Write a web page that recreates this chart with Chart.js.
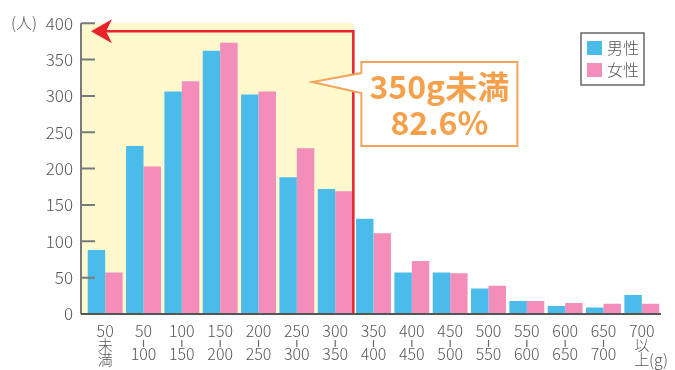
<!DOCTYPE html>
<html>
<head>
<meta charset="utf-8">
<script src="https://cdn.jsdelivr.net/npm/chart.js@4"></script>
<style>
body{margin:0;background:#fff;}
</style>
</head>
<body>
<canvas id="myChart" width="675" height="370"></canvas>
<script>
// weight classes (g): top line / middle / bottom line
let fromLabels = ["50","50","100","150","200","250","300","350","400","450","500","550","600","650","700"];
let midLabels  = ["未","|","|","|","|","|","|","|","|","|","|","|","|","|","以"];
let toLabels   = ["満","100","150","200","250","300","350","400","450","500","550","600","650","700","上"];

let male   = [88, 231, 306, 362, 302, 188, 172, 131, 57, 57, 35, 18, 11, 9, 26];
let female = [57, 203, 320, 373, 306, 228, 169, 111, 73, 56, 39, 18, 15, 14, 14];

let yTicks = [0, 50, 100, 150, 200, 250, 300, 350, 400];

// highlighted range: first 7 classes (under 350g), arrow at this height
let lastHighlighted = 6;
let arrowValue = 389;
let calloutValue = 319;
let calloutText = ["350g未満", "82.6%"];

let labels = fromLabels.map((f, i) => f + "-" + toLabels[i]);
let font = "'Noto Sans CJK JP', 'Noto Sans', sans-serif";

let extras = {
  id: "extras",
  beforeDatasetsDraw(chart){
    let ctx = chart.ctx;
    let x = chart.scales.x, y = chart.scales.y;
    let axisX = chart.chartArea.left - 5;
    let edge = x.getPixelForValue(lastHighlighted) + x.width / labels.length / 2 - 1;
    ctx.save();
    ctx.fillStyle = "#FFF9CD";
    ctx.fillRect(axisX, y.getPixelForValue(400), edge - axisX, y.getPixelForValue(0) - y.getPixelForValue(400));
    ctx.restore();
  },
  afterDatasetsDraw(chart){
    let ctx = chart.ctx;
    let x = chart.scales.x, y = chart.scales.y;
    let area = chart.chartArea;
    let axisX = area.left - 5;
    let bottom = y.getPixelForValue(0);
    let edge = x.getPixelForValue(lastHighlighted) + x.width / labels.length / 2 - 1;
    let ay = y.getPixelForValue(arrowValue);
    ctx.save();

    // red frame + arrow
    ctx.strokeStyle = "#E8232B";
    ctx.lineWidth = 2.5;
    ctx.beginPath();
    ctx.moveTo(axisX + 20, ay);
    ctx.lineTo(edge, ay);
    ctx.lineTo(edge, bottom);
    ctx.stroke();
    ctx.fillStyle = "#E8232B";
    ctx.beginPath();
    ctx.moveTo(axisX + 10, ay);
    ctx.lineTo(axisX + 31, ay - 12);
    ctx.lineTo(axisX + 25, ay);
    ctx.lineTo(axisX + 31, ay + 12);
    ctx.closePath();
    ctx.fill();

    // axes
    ctx.strokeStyle = "#7A7A7A";
    ctx.lineWidth = 2;
    ctx.beginPath();
    ctx.moveTo(axisX, y.getPixelForValue(400));
    ctx.lineTo(axisX, bottom);
    yTicks.forEach(v => {
      if(v == 0) return;
      let py = y.getPixelForValue(v);
      ctx.moveTo(axisX, py);
      ctx.lineTo(axisX + 14, py);
    });
    ctx.stroke();
    ctx.strokeStyle = "#555";
    ctx.beginPath();
    ctx.moveTo(axisX, bottom);
    ctx.lineTo(area.right, bottom);
    ctx.stroke();

    // x labels (3 lines each)
    ctx.fillStyle = "#555";
    ctx.textAlign = "center";
    ctx.textBaseline = "middle";
    labels.forEach((l, i) => {
      let px = x.getPixelForValue(i);
      ctx.font = "300 16px " + font;
      ctx.fillText(fromLabels[i], px, bottom + 17);
      if(midLabels[i] == "|"){
        ctx.strokeStyle = "#666";
        ctx.lineWidth = 1.2;
        ctx.beginPath();
        ctx.moveTo(px, bottom + 26);
        ctx.lineTo(px, bottom + 33);
        ctx.stroke();
        ctx.fillText(toLabels[i], px, bottom + 40);
      } else {
        ctx.font = "300 15px " + font;
        ctx.fillText(midLabels[i], px, bottom + 31);
        ctx.fillText(toLabels[i], px, bottom + 45);
      }
    });
    ctx.font = "300 16px " + font;
    ctx.textAlign = "left";
    ctx.fillText("(g)", area.right - 12, bottom + 46);
    ctx.textAlign = "right";
    ctx.fillText("(人)", axisX - 44, y.getPixelForValue(400));

    // callout
    let tipX = edge - 41, tipY = y.getPixelForValue(calloutValue);
    let bx = edge + 8, by = tipY - 20, bw = 156, bh = 84;
    ctx.fillStyle = "#fff";
    ctx.strokeStyle = "#F6A45A";
    ctx.lineWidth = 2;
    ctx.beginPath();
    ctx.moveTo(bx, by);
    ctx.lineTo(bx + bw, by);
    ctx.lineTo(bx + bw, by + bh);
    ctx.lineTo(bx, by + bh);
    ctx.lineTo(bx, tipY + 11);
    ctx.lineTo(tipX, tipY);
    ctx.lineTo(bx, tipY - 9);
    ctx.closePath();
    ctx.fill();
    ctx.stroke();
    ctx.fillStyle = "#F7A04B";
    ctx.textAlign = "center";
    ctx.font = "bold 32px " + font;
    ctx.fillText(calloutText[0], bx + bw / 2, by + 25);
    ctx.fillText(calloutText[1], bx + bw / 2, by + 61);

    // legend box
    let lx = area.right - 80, ly = 33;
    ctx.strokeStyle = "#666";
    ctx.lineWidth = 1.5;
    ctx.strokeRect(lx, ly, 63, 52);
    ctx.font = "300 16px " + font;
    ctx.textAlign = "left";
    chart.data.datasets.forEach((ds, i) => {
      ctx.fillStyle = ds.backgroundColor;
      ctx.fillRect(lx + 6, ly + 8 + i * 22, 15, 14);
      ctx.fillStyle = "#555";
      ctx.fillText(ds.label, lx + 26, ly + 15 + i * 22);
    });
    ctx.restore();
  }
};

new Chart("myChart", {
  type: "bar",
  data: {
    labels: labels,
    datasets: [
      {label: "男性", data: male, backgroundColor: "#4BBBEA"},
      {label: "女性", data: female, backgroundColor: "#F38DBA"}
    ]
  },
  options: {
    responsive: false,
    animation: false,
    layout: {padding: {top: 19, right: 14, bottom: 0, left: 0}},
    datasets: {bar: {categoryPercentage: 0.91, barPercentage: 1}},
    plugins: {legend: {display: false}, tooltip: {enabled: false}},
    scales: {
      x: {
        grid: {display: false},
        border: {display: false},
        ticks: {display: false},
        afterFit(s){ s.height = 56; }
      },
      y: {
        min: 0, max: 400,
        grid: {display: false, drawTicks: false},
        border: {display: false},
        ticks: {stepSize: 50, padding: 13, color: "#555", font: {size: 17, weight: 300, family: font}},
        afterFit(s){ s.width = 86; }
      }
    }
  },
  plugins: [extras]
});
</script>
</body>
</html>
